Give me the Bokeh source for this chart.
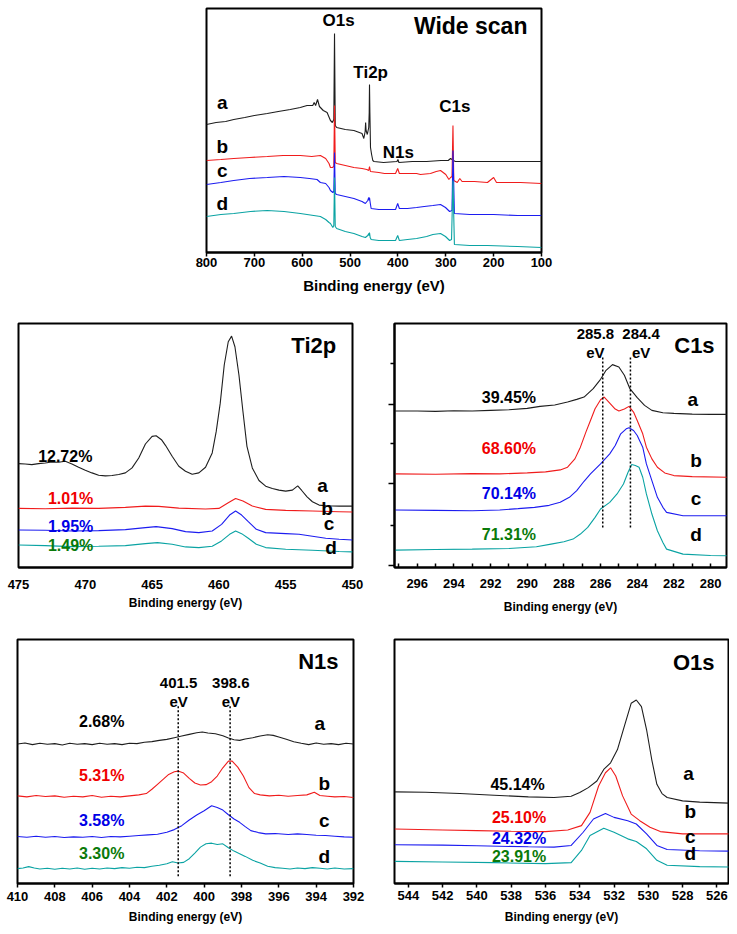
from bokeh.plotting import figure
from bokeh.layouts import column, row
from bokeh.models import Range1d, FixedTicker, CustomJSTickFormatter
from bokeh.core.properties import value
from bokeh.embed import file_html
from bokeh.resources import INLINE

# ---------------- data ----------------
SAMPLES = ["a", "b", "c", "d"]
LINE_COLORS = ["#1e1e1e", "#f01c1c", "#1c1cf0", "#0aa3a3"]
PCT_COLORS = ["#000000", "#f00000", "#0000e6", "#0a7a0a"]
X_TITLE = "Binding energy (eV)"

# Wide scan (binding energy eV, intensity a.u.)
WIDE_TICKS = [800, 700, 600, 500, 400, 300, 200, 100]
WIDE_A = [(800,128),(780,130),(760,131),(743,133),(720,135),(700,137),(673,139),(650,141),(625,143),(604,145),(590,147),(578,147),(575,150),(572,147),(568,153),(564,146),(556,142),(548,140),(541,132),(537,130),(534,133),(532.5,219),(531,127),(528,125),(510,123),(492,122),(475,119),(471.3,114),(468.5,121),(467.5,130),(466.5,122),(464,118),(461,125),(460,140),(459.4,168),(458.6,140),(457.3,105),(455,98),(452.5,92),(450,91),(430,90),(402,91),(400,93),(398,90),(370,91),(340,91),(310,92),(295,92),(290,94),(287,93),(284,92),(280,91),(240,91),(200,91),(150,91),(100,91)]
WIDE_B = [(800,92),(770,93),(743,94),(710,95),(673,96),(640,97),(604,97),(580,96),(562,97),(551,94),(544,89),(541,85),(537,85),(534,86),(532.5,147),(531,90),(528,89),(510,87),(492,85),(475,84),(465,83),(461,82),(459.4,86),(457.5,81),(440,80),(428,79),(405,79),(400.5,84),(397,79),(380,79),(361,79),(353,78),(332,79),(320,81),(311,82),(300,78),(293.5,73),(290,75),(287,76),(285,127),(283.3,72),(276,70),(270.7,74),(266,71),(240,71),(213,70),(200,75),(194,70),(170,70),(144,70),(100,69)]
WIDE_C = [(800,68),(770,70),(743,72),(710,74),(673,75),(638,76),(604,75),(585,74),(569,73),(562,70),(551,69),(544,65),(541,62),(536,60),(534,61),(532.5,100),(531,59),(528,58),(510,56),(492,54),(475,51),(468,49),(463,52),(461,55),(460,52),(459.4,55),(458,50),(456,44),(440,43),(428,43),(405,43),(400.5,49),(397,44),(380,44),(361,45),(345,46),(327,47),(311,48),(300.6,45),(292,41),(287,42),(285,102),(282,39),(250,38),(200,38),(150,37),(100,37)]
WIDE_D = [(800,36),(770,38),(743,39),(708,41),(673,42),(638,41),(604,39),(576,37),(562,36),(551,33),(544,30),(541,29),(536,25),(534,27),(532.5,75),(531,26),(528,24),(510,21),(492,19),(475,16),(468,15),(463,17),(461,19),(460,17),(459.4,20),(458,15),(456,13),(440,12),(428,12),(405,12),(400.5,17),(397,12),(380,13),(361,14),(340,16),(327,18),(311,19),(300.6,16),(292,12),(288,13),(285,72),(282,8),(250,7),(213,7),(150,6),(100,5)]
WIDE_PEAK_TEXT = ["O1s", "Ti2p", "N1s", "C1s"]
WIDE_PEAK_X = [524, 457, 399, 281]
WIDE_PEAK_Y = [232, 180, 100, 146]
WIDE_SAMPLE_X = [767, 767, 767, 767]
WIDE_SAMPLE_Y = [150, 106, 82, 49]

# Ti2p
TI_TICKS = [475, 470, 465, 460, 455, 450]
TI_A = [(475,313),(474.5,312),(474,310),(473.5,313),(473,315),(472.5,318),(472,317),(471.5,320),(471,312),(470.5,302),(470,293),(469.5,285),(469,278),(468.5,276),(468,277),(467.5,280),(467,285),(466.5,300),(466,330),(465.5,372),(465,395),(464.7,397),(464.3,385),(464,368),(463.5,335),(463,305),(462.5,290),(462,281),(461.5,285),(461,302),(460.5,345),(460.2,410),(459.9,495),(459.6,610),(459.3,680),(459.05,697),(458.8,665),(458.5,580),(458.2,470),(457.9,365),(457.5,300),(457,262),(456.5,245),(456,238),(455.5,233),(455,230),(454.5,233),(454.1,246),(453.8,232),(453.4,213),(453,198),(452.5,188),(452,186),(451,185),(450,185)]
TI_B = [(475,178),(473,177),(471,179),(469,178),(467,181),(465.5,185),(464.5,184),(463,179),(461,176),(460,178),(459.3,195),(458.75,208),(458.2,200),(457.5,185),(456.5,175),(455,172),(453,170),(451,168),(450,167)]
TI_C = [(475,113),(473,112),(471,110),(469,111),(467,114),(465.5,120),(464.7,123),(463.5,117),(462.5,108),(461.5,105),(460.5,110),(459.8,130),(459.2,158),(458.75,170),(458.3,158),(457.8,138),(457.2,115),(456.5,105),(455,102),(454,100),(453,94),(452,88),(451,85),(450,83)]
TI_D = [(475,68),(473,66),(471,63),(469,64),(467,66),(465.5,72),(464.6,75),(463.5,70),(462.5,62),(461.5,60),(460.5,64),(459.8,80),(459.2,100),(458.75,110),(458.3,102),(457.8,88),(457.2,70),(456.5,60),(455,55),(453,52),(451,48),(450,47)]
TI_PCT = ["12.72%", "1.01%", "1.95%", "1.49%"]
TI_PCT_X = [471.5, 471.1, 471.1, 471.1]
TI_PCT_Y = [333, 208, 125, 65]
TI_SAMPLE_X = [452.25, 451.9, 451.75, 451.6]
TI_SAMPLE_Y = [247, 177, 133, 60]

# C1s
C1S_TICKS = [296, 294, 292, 290, 288, 286, 284, 282, 280]
C1S_MINOR = [297, 295, 293, 291, 289, 287, 285, 283, 281, 279]
C1S_YTICKS = [5, 250, 487]
C1S_YMINOR = [127, 370, 610]
C1S_A = [(297.2,468),(296,468),(295,467),(294,469),(293,468),(292,470),(291,472),(290,476),(289.3,482),(288.5,486),(287.8,495),(287.3,503),(286.9,510),(286.4,535),(286.0,563),(285.7,590),(285.35,607),(285.0,600),(284.7,575),(284.4,535),(284.0,508),(283.6,485),(283.2,470),(282.6,463),(282,461),(281,459),(280,458),(279.1,458)]
C1S_B = [(297.2,280),(295,279),(293,281),(291.5,280),(290,283),(289,286),(288.2,292),(287.8,300),(287.4,325),(287.1,360),(286.8,405),(286.55,440),(286.3,475),(286.0,502),(285.8,510),(285.5,492),(285.2,474),(285.0,468),(284.7,474),(284.45,482),(284.2,465),(284.0,440),(283.7,400),(283.5,360),(283.2,325),(282.9,300),(282.5,283),(282.0,275),(281,272),(279.1,270)]
C1S_C = [(297.2,172),(295,171),(293,170),(291.5,172),(290.5,176),(289.6,180),(288.8,186),(288.2,195),(287.7,210),(287.3,230),(286.9,258),(286.55,280),(286.0,310),(285.5,340),(285.2,365),(284.9,400),(284.6,415),(284.45,418),(284.2,410),(284.0,395),(283.7,360),(283.5,310),(283.2,260),(282.9,210),(282.6,180),(282.4,165),(281.5,155),(279.1,155)]
C1S_D = [(297.2,52),(295,54),(293,55),(291,57),(289.5,62),(288.7,70),(288.0,77),(287.5,85),(287.1,100),(286.7,120),(286.3,150),(286.0,175),(285.5,195),(285.1,220),(284.75,250),(284.5,285),(284.3,308),(284.1,305),(283.9,300),(283.7,270),(283.5,220),(283.2,160),(282.9,110),(282.6,75),(282.4,55),(281.5,40),(280,36),(279.1,35)]
C1S_REF_EV = [285.88, 284.37]
C1S_REF_Y = [120, 628]
C1S_REF_TEXT = ["285.8", "284.4"]
C1S_REF_TX = [286.28, 283.79]
C1S_PCT = ["39.45%", "68.60%", "70.14%", "71.31%"]
C1S_PCT_X = [291.0, 291.0, 291.0, 291.0]
C1S_PCT_Y = [510, 357, 222, 100]
C1S_SAMPLE_X = [280.97, 280.79, 280.79, 280.79]
C1S_SAMPLE_Y = [502, 320, 205, 100]

# N1s
N1S_TICKS = [410, 408, 406, 404, 402, 400, 398, 396, 394, 392]
N1S_A = [(410,422),(409.6,425),(409.2,420),(408.8,424),(408.4,421),(408,423),(407.6,419),(407.2,424),(406.8,421),(406.4,423),(406,420),(405.6,424),(405.2,421),(404.8,423),(404.4,420),(404,424),(403.6,423),(403.2,427),(402.8,429),(402.4,433),(402,436),(401.6,441),(401.2,446),(400.8,451),(400.4,456),(400.1,458),(399.8,455),(399.4,453),(399,447),(398.7,440),(398.4,435),(398.1,433),(397.8,437),(397.4,441),(397,446),(396.6,450),(396.3,448),(396,443),(395.6,436),(395.2,429),(394.8,424),(394.4,420),(394,425),(393.6,421),(393.2,423),(392.8,420),(392.4,424),(392,422)]
N1S_B = [(410,265),(409.5,262),(409,266),(408.5,263),(408,265),(407.5,261),(407,264),(406.5,262),(406,266),(405.5,261),(405,264),(404.5,262),(404,265),(403.5,268),(403.1,272),(402.8,285),(402.5,300),(402.2,315),(401.9,330),(401.6,338),(401.4,340),(401.1,334),(400.8,318),(400.5,304),(400.2,298),(399.9,299),(399.6,308),(399.3,325),(399,350),(398.7,370),(398.5,370),(398.2,352),(397.9,325),(397.6,290),(397.3,272),(397,268),(396.5,265),(396,267),(395.5,264),(395,266),(394.5,268),(394.1,276),(393.8,266),(393.4,264),(393,262),(392.5,263),(392,260)]
N1S_C = [(410,142),(409.5,140),(409,143),(408.5,140),(408,142),(407.5,139),(407,141),(406.5,140),(406,142),(405.5,139),(405,142),(404.5,141),(404,143),(403.5,145),(403,147),(402.5,149),(402,155),(401.6,163),(401.2,175),(400.8,192),(400.4,207),(400,220),(399.6,235),(399.3,230),(399,222),(398.7,208),(398.4,195),(398.1,185),(397.8,172),(397.5,160),(397.1,154),(396.7,150),(396.2,151),(395.5,148),(395,150),(394.5,148),(394,146),(393.5,145),(393,143),(392.5,141),(392,140)]
N1S_D = [(410,45),(409.7,47),(409.4,51),(409.1,47),(408.8,44),(408.4,46),(408,43),(407.6,46),(407.2,44),(406.8,47),(406.4,43),(406,46),(405.6,44),(405.2,47),(404.8,45),(404.4,48),(404,46),(403.6,49),(403.2,48),(402.8,52),(402.4,55),(402.0,60),(401.7,66),(401.4,62),(401.1,64),(400.8,75),(400.5,92),(400.2,110),(399.9,120),(399.6,122),(399.3,118),(399,120),(398.7,108),(398.4,98),(398.1,90),(397.8,82),(397.4,70),(397,62),(396.6,52),(396.2,48),(395.8,46),(395.4,44),(395,47),(394.6,45),(394.2,48),(393.8,46),(393.4,44),(393,47),(392.5,44),(392,45)]
N1S_REF_EV = [401.39, 398.61]
N1S_REF_Y = [22, 540]
N1S_REF_TEXT = ["401.5", "398.6"]
N1S_REF_TX = [401.37, 398.57]
N1S_PCT = ["2.68%", "5.31%", "3.58%", "3.30%"]
N1S_PCT_X = [405.49, 405.49, 405.49, 405.49]
N1S_PCT_Y = [490, 328, 190, 90]
N1S_SAMPLE_X = [393.81, 393.57, 393.57, 393.57]
N1S_SAMPLE_Y = [485, 302, 190, 82]

# O1s
O1S_TICKS = [544, 542, 540, 538, 536, 534, 532, 530, 528, 526]
O1S_A = [(544.8,277),(543,276),(541,272),(539,267),(537,262),(535.5,260),(534.5,264),(534.0,275),(533.5,290),(533.0,310),(532.6,345),(532.2,365),(531.8,405),(531.4,475),(531.0,545),(530.7,555),(530.4,535),(530.1,465),(529.8,375),(529.5,300),(529.2,272),(528.9,260),(528,250),(527,246),(525.3,243)]
O1S_B = [(544.8,165),(542,162),(540,160),(538,158),(536,157),(534.7,162),(533.9,175),(533.4,215),(532.9,295),(532.5,335),(532.2,350),(531.9,325),(531.5,265),(531.0,210),(530.5,190),(529.9,170),(529.3,157),(528,150),(525.3,150)]
O1S_C = [(544.8,117),(542,116),(540,114),(537,111),(535.5,110),(534.5,115),(533.8,155),(533.2,195),(532.5,212),(532.0,200),(531.2,190),(530.7,180),(530.1,150),(529.5,115),(528.9,103),(527,99),(525.3,98)]
O1S_D = [(544.8,67),(542,65),(539,63),(536,60),(534.5,63),(533.9,100),(533.4,145),(532.6,167),(532.0,155),(531.2,135),(530.7,127),(530.1,105),(529.5,70),(528.9,55),(527,51),(525.3,50)]
O1S_PCT = ["45.14%", "25.10%", "24.32%", "23.91%"]
O1S_PCT_X = [537.63, 537.54, 537.54, 537.54]
O1S_PCT_Y = [300, 200, 135, 83]
O1S_SAMPLE_X = [527.65, 527.55, 527.55, 527.55]
O1S_SAMPLE_Y = [333, 217, 143, 92]

# ---------------- helpers ----------------
FONT = "Liberation Sans"


def make_panel(w, h, left, right, top, bottom, xr, yr):
    p = figure(width=w, height=h, x_range=Range1d(*xr), y_range=Range1d(*yr),
               output_backend="svg", toolbar_location=None,
               min_border_left=left, min_border_right=right,
               min_border_top=top, min_border_bottom=bottom)
    p.xgrid.visible = False
    p.ygrid.visible = False
    p.outline_line_color = "black"
    p.outline_line_width = 2
    p.outline_line_alpha = 1
    p.background_fill_color = "white"
    p.border_fill_color = "white"
    p.yaxis.visible = False
    return p


def style_x(p, ticks, minor, tsize, lsize, t_in, t_out, standoff, lstandoff):
    ax = p.xaxis[0]
    ax.ticker = FixedTicker(ticks=ticks, minor_ticks=minor)
    ax.axis_label = X_TITLE
    ax.axis_label_text_font = FONT
    ax.axis_label_text_font_style = "bold"
    ax.axis_label_text_font_size = lsize
    ax.axis_label_text_color = "black"
    ax.axis_label_standoff = lstandoff
    ax.major_label_text_font = FONT
    ax.major_label_text_font_style = "bold"
    ax.major_label_text_font_size = tsize
    ax.major_label_text_color = "black"
    ax.major_label_standoff = standoff
    ax.axis_line_color = "black"
    ax.axis_line_width = 2
    ax.major_tick_in = t_in
    ax.major_tick_out = t_out
    ax.major_tick_line_width = 1.5
    ax.minor_tick_in = t_in
    ax.minor_tick_out = t_out
    ax.minor_tick_line_width = 1.5
    if t_in == 0 and t_out == 0:
        ax.major_tick_line_color = None
        ax.minor_tick_line_color = None
    if not minor:
        ax.minor_tick_line_color = None


def curves(p, data_list):
    for pts, col in zip(data_list, LINE_COLORS):
        p.line([q[0] for q in pts], [q[1] for q in pts], line_color=col, line_width=1.1)


def texts(p, xs, ys, txt, colors, size, style="bold"):
    p.text(x=xs, y=ys, text=txt, text_color=colors, text_font=value(FONT),
           text_font_style=style, text_font_size=size,
           text_align="center", text_baseline="middle")


# ---------------- wide scan ----------------
pw = make_panel(729, 318, 206, 188, 8, 66, (800, 100), (0, 244))
style_x(pw, WIDE_TICKS, [], "13px", "15px", 0, 4, 1, 7)
curves(pw, [WIDE_A, WIDE_B, WIDE_C, WIDE_D])
texts(pw, WIDE_SAMPLE_X, WIDE_SAMPLE_Y, SAMPLES, ["black"] * 4, "19px")
texts(pw, WIDE_PEAK_X, WIDE_PEAK_Y, WIDE_PEAK_TEXT, ["black"] * 4, "17px")
texts(pw, [248], [227], ["Wide scan"], ["black"], "23px")

# ---------------- Ti2p ----------------
pt = make_panel(373, 310, 18, 21, 5, 60, (475, 450), (0, 735))
style_x(pt, TI_TICKS, [], "13px", "12px", 0, 0, 12, 4)
curves(pt, [TI_A, TI_B, TI_C, TI_D])
texts(pt, TI_PCT_X, TI_PCT_Y, TI_PCT, PCT_COLORS, "16px")
texts(pt, TI_SAMPLE_X, TI_SAMPLE_Y, SAMPLES, ["black"] * 4, "19px")
texts(pt, [452.9], [670], ["Ti2p"], ["black"], "22px")

# ---------------- C1s ----------------
pc = make_panel(356, 310, 21, 3, 5, 61, (297.24, 279.13), (0, 730))
style_x(pc, C1S_TICKS, C1S_MINOR, "13px", "12px", 4, 0, 11, 9)
pc.yaxis.visible = True
yax = pc.yaxis[0]
yax.ticker = FixedTicker(ticks=C1S_YTICKS, minor_ticks=C1S_YMINOR)
yax.formatter = CustomJSTickFormatter(code="return ''")
yax.major_tick_out = 6
yax.major_tick_in = 0
yax.minor_tick_out = 4
yax.minor_tick_in = 0
yax.major_tick_line_width = 1.5
yax.minor_tick_line_width = 1.5
yax.axis_line_color = "black"
yax.axis_line_width = 2
curves(pc, [C1S_A, C1S_B, C1S_C, C1S_D])
pc.segment(x0=C1S_REF_EV, y0=[C1S_REF_Y[0]] * 2, x1=C1S_REF_EV, y1=[C1S_REF_Y[1]] * 2,
           line_color="black", line_width=1.5, line_dash="2 2")
texts(pc, C1S_REF_TX, [698, 698], C1S_REF_TEXT, ["black"] * 2, "15px")
texts(pc, C1S_REF_TX, [642, 642], ["eV", "eV"], ["black"] * 2, "15px")
texts(pc, C1S_PCT_X, C1S_PCT_Y, C1S_PCT, PCT_COLORS, "16px")
texts(pc, C1S_SAMPLE_X, C1S_SAMPLE_Y, SAMPLES, ["black"] * 4, "19px")
texts(pc, [280.88], [665], ["C1s"], ["black"], "22px")

# ---------------- N1s ----------------
pn = make_panel(373, 300, 17, 20, 9, 45, (410, 392), (0, 738))
style_x(pn, N1S_TICKS, [], "13px", "12px", 0, 4, 4, 6)
curves(pn, [N1S_A, N1S_B, N1S_C, N1S_D])
pn.segment(x0=N1S_REF_EV, y0=[N1S_REF_Y[0]] * 2, x1=N1S_REF_EV, y1=[N1S_REF_Y[1]] * 2,
           line_color="black", line_width=1.5, line_dash="2 2")
texts(pn, N1S_REF_TX, [605, 605], N1S_REF_TEXT, ["black"] * 2, "15px")
texts(pn, N1S_REF_TX, [549, 549], ["eV", "eV"], ["black"] * 2, "15px")
texts(pn, N1S_PCT_X, N1S_PCT_Y, N1S_PCT, PCT_COLORS, "16px")
texts(pn, N1S_SAMPLE_X, N1S_SAMPLE_Y, SAMPLES, ["black"] * 4, "19px")
texts(pn, [393.88], [672], ["N1s"], ["black"], "22px")

# ---------------- O1s ----------------
po = make_panel(356, 300, 21, 1, 11, 43, (544.81, 525.32), (0, 738))
style_x(po, O1S_TICKS, [], "13px", "12px", 0, 4, 3, 7)
curves(po, [O1S_A, O1S_B, O1S_C, O1S_D])
texts(po, O1S_PCT_X, O1S_PCT_Y, O1S_PCT, PCT_COLORS, "16px")
texts(po, O1S_SAMPLE_X, O1S_SAMPLE_Y, SAMPLES, ["black"] * 4, "19px")
texts(po, [527.35], [667], ["O1s"], ["black"], "22px")

layout = column(pw, row(pt, pc), row(pn, po))
open("out.html", "w").write(file_html(layout, INLINE))
